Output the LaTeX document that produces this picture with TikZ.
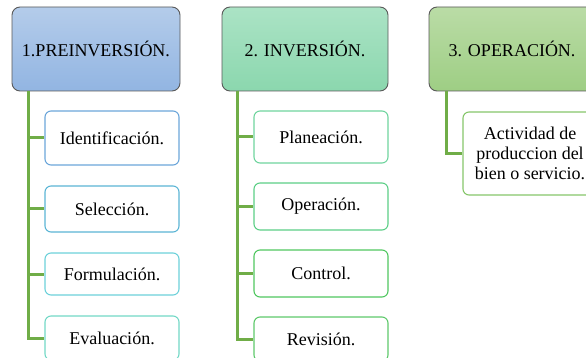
\documentclass[tikz,border=0pt]{standalone}
\usepackage{fontspec}
\setmainfont{Liberation Serif}
\begin{document}
\begin{tikzpicture}[x=1pt,y=-1pt,
  head/.style={draw=black!65, line width=0.9pt, rounded corners=8pt, minimum height=84pt, font=\fontsize{18}{20}\selectfont, inner sep=0pt},
  child/.style={draw=#1, fill=white, line width=1.1pt, rounded corners=6pt, minimum width=134pt, font=\fontsize{18}{20}\selectfont, inner sep=0pt, align=center},
  conn/.style={draw=lineg, line width=3pt}
]
\definecolor{lineg}{HTML}{70AD47}
\definecolor{b1t}{HTML}{B4CCEA}\definecolor{b1b}{HTML}{92B5E2}
\definecolor{b2t}{HTML}{ABE3C5}\definecolor{b2b}{HTML}{8BD7AE}
\definecolor{b3t}{HTML}{BADCA6}\definecolor{b3b}{HTML}{9ECE84}
\definecolor{c11}{HTML}{6CA6DA}\definecolor{c12}{HTML}{5BB5D5}
\definecolor{c13}{HTML}{6DD1DA}\definecolor{c14}{HTML}{72D8C6}
\definecolor{c21}{HTML}{6FD49E}\definecolor{c22}{HTML}{5CCF86}
\definecolor{c23}{HTML}{50C760}\definecolor{c24}{HTML}{5EC96B}
\definecolor{c31}{HTML}{86C66A}
\clip (0,0) rectangle (586,358);
% headers
\node[head, minimum width=168pt, top color=b1t, bottom color=b1b] (h1) at (96,49) {1.PREINVERSIÓN.};
\node[head, minimum width=166pt, top color=b2t, bottom color=b2b] (h2) at (305,49) {2. INVERSIÓN.};
\node[head, minimum width=166pt, top color=b3t, bottom color=b3b] (h3) at (512,49) {3. OPERACIÓN.};
% trunk starts
\coordinate (t1) at (28,91);
\coordinate (t2) at (237,91);
\coordinate (t3) at (446,91);
% column 1 children
\node[child=c11, minimum height=54pt] (a1) at (112,138) {Identificación.};
\node[child=c12, minimum height=46pt] (a2) at (112,209) {Selección.};
\node[child=c13, minimum height=42pt] (a3) at (112,274) {Formulación.};
\node[child=c14, minimum height=44pt] (a4) at (112,338) {Evaluación.};
% column 2 children
\node[child=c21, minimum height=52pt] (b1) at (321,137) {Planeación.};
\node[child=c22, minimum height=47pt] (b2) at (321,206.5) {Operación.};
\node[child=c23, minimum height=47pt] (b3) at (321,273.5) {Control.};
\node[child=c24, minimum height=44pt] (b4) at (321,339) {Revisión.};
% column 3 child
\node[child=c31, minimum height=83pt] (d1) at (530,153.5) {Actividad de\\produccion del\\bien o servicio.};
% connectors
\draw[conn] (t1) |- (a1.west);
\draw[conn] (t1) |- (a2.west);
\draw[conn] (t1) |- (a3.west);
\draw[conn] (t1) |- (a4.west);
\draw[conn] (t2) |- (b1.west);
\draw[conn] (t2) |- (b2.west);
\draw[conn] (t2) |- (b3.west);
\draw[conn] (t2) |- (b4.west);
\draw[conn] (t3) |- (d1.west);
\end{tikzpicture}
\end{document}
